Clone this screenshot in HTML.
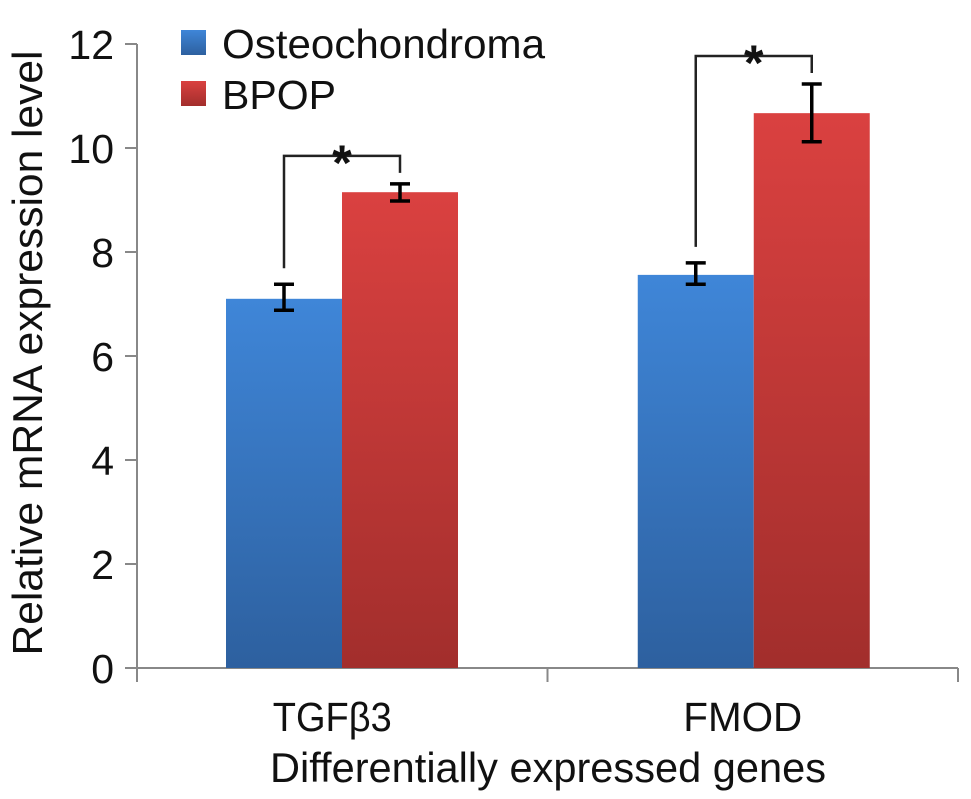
<!DOCTYPE html>
<html><head><meta charset="utf-8"><style>
body{margin:0;background:#fff;}
svg{display:block;font-family:"Liberation Sans",Arial,sans-serif;}
</style></head><body>
<svg id="chart" width="971" height="799">
<defs>
<linearGradient id="gb" x1="0" y1="0" x2="0" y2="1"><stop offset="0" stop-color="#3f86d8"/><stop offset="1" stop-color="#2d609f"/></linearGradient>
<linearGradient id="gr" x1="0" y1="0" x2="0" y2="1"><stop offset="0" stop-color="#da4140"/><stop offset="1" stop-color="#a22e2c"/></linearGradient>
</defs>
<g id="axes"></g><g id="bars"></g><g id="errs"></g><g id="sig"></g>
<g>
<rect x="181" y="30" width="25" height="25" fill="url(#gb)"/>
<text x="222" y="58" font-size="41" textLength="323" lengthAdjust="spacingAndGlyphs" fill="#111">Osteochondroma</text>
<rect x="181" y="81" width="25" height="25" fill="url(#gr)"/>
<text x="222" y="109" font-size="41" fill="#111">BPOP</text>
</g>
<text transform="translate(42,353) rotate(-90)" text-anchor="middle" font-size="42" textLength="605" lengthAdjust="spacingAndGlyphs" fill="#111">Relative mRNA expression level</text>
<text x="548" y="782" text-anchor="middle" font-size="42" textLength="556" lengthAdjust="spacingAndGlyphs" fill="#111">Differentially expressed genes</text>
</svg>
<script>
const categories=["TGFβ3","FMOD"];
const osteoValues=[7.1,7.56];
const osteoLow=[6.88,7.38];
const osteoHigh=[7.38,7.79];
const bpopValues=[9.15,10.67];
const bpopLow=[8.98,10.12];
const bpopHigh=[9.31,11.23];
const yTicks=[0,2,4,6,8,10,12];
const NS="http://www.w3.org/2000/svg";
const y=v=>668-v*52;
const catX=i=>137+(i+0.5)*410.5;
function mk(tag,attrs,parent){const e=document.createElementNS(NS,tag);for(const k in attrs)e.setAttribute(k,attrs[k]);parent.appendChild(e);return e;}
const axes=document.getElementById('axes');
let a=mk('line',{x1:137,y1:44,x2:137,y2:668,stroke:'#888','stroke-width':2},axes);


a=mk('line',{x1:137,y1:668,x2:958,y2:668,stroke:'#888','stroke-width':2},axes);


yTicks.forEach(t=>{
 const l=mk('line',{x1:125,y1:y(t),x2:137,y2:y(t),stroke:'#888','stroke-width':2},axes);
 
 
 const tx=mk('text',{x:114,y:y(t)+15,'text-anchor':'end','font-size':41,fill:'#111'},axes);
 tx.textContent=t;
 
 
});
[0,1,2].forEach(i=>{
 const x=137+i*410.5;
 const l=mk('line',{x1:x,y1:668,x2:x,y2:682,stroke:'#888','stroke-width':2},axes);
 
 
});
categories.forEach((c,i)=>{
 const tx=mk('text',{x:catX(i)-10,y:731,'text-anchor':'middle','font-size':41,textLength:119,lengthAdjust:'spacingAndGlyphs',fill:'#111'},axes);
 tx.textContent=c;
 
 
});
const bars=document.getElementById('bars'),errs=document.getElementById('errs'),sig=document.getElementById('sig');
const bw=116;
function errbar(cx,lo,hi,name){
 const g=mk('g',{stroke:'#000','stroke-width':3.5},errs);
 
 
 mk('line',{x1:cx,y1:y(hi),x2:cx,y2:y(lo)},g);
 mk('line',{x1:cx-10,y1:y(hi),x2:cx+10,y2:y(hi)},g);
 mk('line',{x1:cx-10,y1:y(lo),x2:cx+10,y2:y(lo)},g);
}
function fixOff(i){return i===0?0.25:-1;}
categories.forEach((c,i)=>{
 const cx=catX(i)-fixOff(i);
 const b1=mk('rect',{x:cx-bw,y:y(osteoValues[i]),width:bw,height:y(0)-y(osteoValues[i]),fill:'url(#gb)'},bars);
 
 
 const b2=mk('rect',{x:cx,y:y(bpopValues[i]),width:bw,height:y(0)-y(bpopValues[i]),fill:'url(#gr)'},bars);
 
 
 const x1=cx-bw/2,x2=cx+bw/2;
 errbar(x1,osteoLow[i],osteoHigh[i],'error-bar-osteochondroma-'+i);
 errbar(x2,bpopLow[i],bpopHigh[i],'error-bar-bpop-'+i);
 const top=y(Math.max(bpopHigh[i],osteoHigh[i]))-28;
 const p=mk('path',{d:`M${x1} ${y(osteoHigh[i])-16} V${top} H${x2} V${y(bpopHigh[i])-11}`,fill:'none',stroke:'#222','stroke-width':2.5},sig);
 
 
 const s=mk('text',{x:(x1+x2)/2,y:top+24,'text-anchor':'middle','font-size':50,'font-weight':'bold',fill:'#111'},sig);
 s.textContent='*';
 
 
});
</script>
</body></html>
